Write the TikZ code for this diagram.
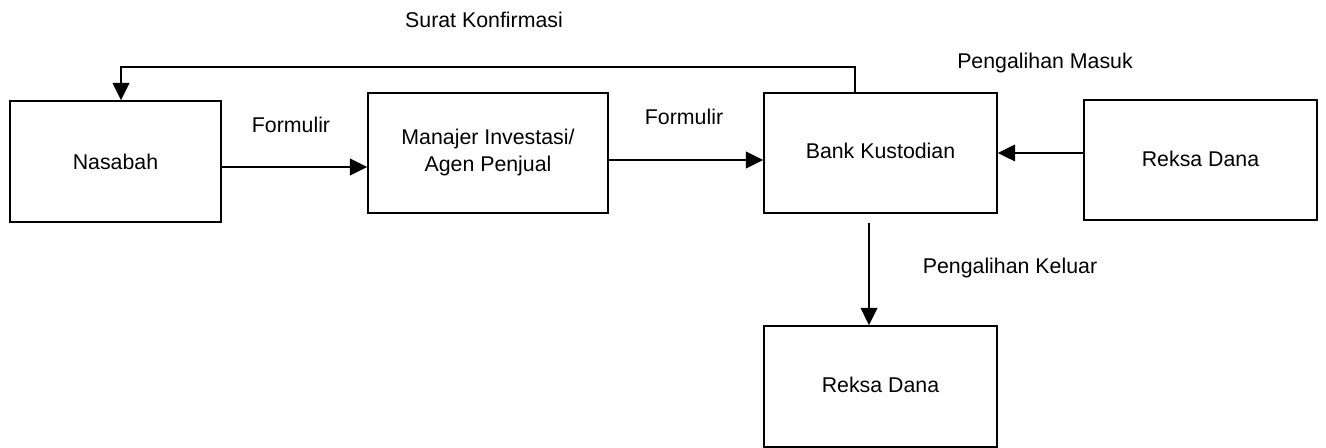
\documentclass[tikz,border=0pt]{standalone}
\usepackage{fontspec}
\setmainfont{Liberation Sans}
\usetikzlibrary{arrows.meta,calc}
\begin{document}
\begin{tikzpicture}[x=0.75pt,y=-0.75pt,
  box/.style={draw,line width=1.3pt,inner sep=0pt,align=center,font=\fontsize{16}{20}\selectfont},
  lbl/.style={inner sep=0pt,font=\fontsize{16}{20}\selectfont},
  arr/.style={line width=1.5pt,-{Triangle[length=13pt,width=12.5pt]}}]
\useasboundingbox (0,0) rectangle (1326,448);
\node[box,minimum width=158.25pt,minimum height=90.75pt] (nas) at (115.5,161.5) {Nasabah};
\node[box,minimum width=180pt,minimum height=90pt] (man) at (488,153) {\raisebox{4pt}{\begin{tabular}{@{}c@{}}Manajer Investasi/\\Agen Penjual\end{tabular}}};
\node[box,minimum width=174.75pt,minimum height=90pt] (bank) at (880.5,153) {\raisebox{3pt}{Bank Kustodian}};
\node[box,minimum width=174.75pt,minimum height=90pt] (rd1) at (1200.5,160) {\raisebox{2pt}{Reksa Dana}};
\node[box,minimum width=174.75pt,minimum height=90.75pt] (rd2) at (880.5,386.5) {\raisebox{2pt}{Reksa Dana}};
\coordinate (top) at (855,67);
\coordinate (topl) at (121,67);
\draw[arr] (nas.east |- 0,167) -- (man.west |- 0,167);
\draw[arr] (man.east |- 0,160) -- (bank.west |- 0,160);
\draw[arr] (rd1.west |- 0,153) -- (bank.east |- 0,153);
\draw[arr,shorten <=6.75pt] (bank.south -| 869,0) -- (rd2.north -| 869,0);
\draw[arr] (bank.north -| top) -- (top) -- (topl) -- (nas.north -| topl);
\node[lbl] (l1) at (484,20) {Surat Konfirmasi};
\node[lbl] (l2) at (1045,63) {Pengalihan Masuk};
\node[lbl] (l3) at (291,125) {Formulir};
\node[lbl] (l4) at (684,117) {Formulir};
\node[lbl] (l5) at (1010,268) {Pengalihan Keluar};
\end{tikzpicture}
\end{document}
